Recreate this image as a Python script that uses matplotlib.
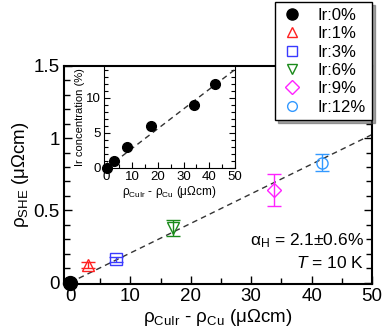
import matplotlib
matplotlib.use("Agg")
import matplotlib.pyplot as plt
import numpy as np
from matplotlib.ticker import MultipleLocator, FuncFormatter
from matplotlib.lines import Line2D

plt.rcParams['font.family'] = ['Liberation Sans', 'DejaVu Sans']
plt.rcParams['mathtext.fontset'] = 'custom'
plt.rcParams['mathtext.rm'] = 'Liberation Sans'
plt.rcParams['mathtext.it'] = 'Liberation Sans:italic'

# main panel data
labels = ['Ir:0%', 'Ir:1%', 'Ir:3%', 'Ir:6%', 'Ir:9%', 'Ir:12%']
rho_diff = [0.0, 3.0, 7.6, 17.0, 33.8, 41.8]
rho_she = [0.0, 0.12, 0.16, 0.375, 0.64, 0.83]
rho_she_err = [0.0, 0.02, 0.02, 0.055, 0.11, 0.06]
markers = ['o', '^', 's', 'v', 'D', 'o']
colors = ['black', '#ff2020', '#3a3aff', '#1a8a1a', '#ff22ff', '#3399ff']
fit_slope = 0.0205

# inset data
inset_rho = [0.0, 2.8, 7.8, 17.2, 34.2, 42.4]
inset_conc = [0.0, 1.0, 3.0, 6.0, 9.0, 12.0]
inset_slope = 0.28

W, H = 382, 329
fig = plt.figure(figsize=(W / 100, H / 100), dpi=100)

ax = fig.add_axes([64 / W, 1 - 284 / H, 308 / W, 218 / H])
xs = np.array([0, 50])
ax.plot(xs, fit_slope * xs, '--', color='#333333', lw=1, dashes=(4, 3))
handles = []
for i in range(len(labels)):
    filled = i == 0
    ms = 10 if filled else (7 if markers[i] == 'D' else 8)
    ax.errorbar(rho_diff[i], rho_she[i], yerr=rho_she_err[i] if i else None,
                fmt=markers[i], color=colors[i],
                mfc=colors[i] if filled else 'none', mec=colors[i],
                ms=ms, mew=1, elinewidth=1, capsize=5,
                clip_on=False, zorder=5)
    handles.append(Line2D([], [], ls='none', marker=markers[i], color=colors[i],
                          mfc=colors[i] if filled else 'none', mec=colors[i],
                          ms=8 if filled else 7, mew=1, label=labels[i]))
ax.set_xlim(-1, 50)
ax.set_ylim(-0.01, 1.5)
ax.xaxis.set_major_locator(MultipleLocator(10))
ax.xaxis.set_minor_locator(MultipleLocator(5))
ax.yaxis.set_major_locator(MultipleLocator(0.5))
ax.yaxis.set_minor_locator(MultipleLocator(0.1))
ax.yaxis.set_major_formatter(FuncFormatter(lambda v, p: '%g' % v))
ax.tick_params(which='both', direction='in', right=True, top=False, labelsize=13.5, pad=3)
ax.tick_params(which='major', length=6, width=1)
ax.tick_params(which='minor', length=4, width=1)
for s in ax.spines.values():
    s.set_linewidth(1.5)
ax.set_xlabel(r'ρ$_\mathregular{CuIr}$ - ρ$_\mathregular{Cu}$ (μΩcm)', fontsize=13.5, labelpad=1)
ax.set_ylabel(r'ρ$_\mathregular{SHE}$ (μΩcm)', fontsize=13.5, labelpad=2)
ax.text(0.975, 0.20, r'α$_\mathregular{H}$ = 2.1±0.6%', transform=ax.transAxes,
        ha='right', va='center', fontsize=12.5)
ax.text(0.975, 0.095, r'$\mathit{T}$ = 10 K', transform=ax.transAxes,
        ha='right', va='center', fontsize=12.5)

# inset
ins = fig.add_axes([104 / W, 1 - 168 / H, 131 / W, 102 / H])
ins.plot(xs, inset_slope * xs, '--', color='#333333', lw=1, dashes=(4, 3))
ins.plot(inset_rho, inset_conc, 'o', color='black', ms=7, clip_on=False, zorder=5)
ins.set_xlim(-1, 50)
ins.set_ylim(0, 14.5)
ins.xaxis.set_major_locator(MultipleLocator(10))
ins.xaxis.set_minor_locator(MultipleLocator(5))
ins.yaxis.set_major_locator(MultipleLocator(5))
ins.yaxis.set_minor_locator(MultipleLocator(1))
ins.tick_params(which='both', direction='in', right=True, labelsize=9.5, pad=2)
ins.tick_params(which='major', length=4, width=0.8)
ins.tick_params(which='minor', length=3, width=0.8)
ins.set_xlabel(r'ρ$_\mathregular{CuIr}$ - ρ$_\mathregular{Cu}$ (μΩcm)', fontsize=8.5, labelpad=1)
ins.set_ylabel('Ir concentration (%)', fontsize=8, labelpad=1)

leg = fig.legend(handles=handles, loc='upper right',
                 bbox_to_anchor=(372 / W, 1 - 2 / H), borderaxespad=0,
                 fontsize=12, frameon=True, fancybox=False, shadow=True,
                 edgecolor='black', framealpha=1, handletextpad=0.9,
                 labelspacing=0.2, borderpad=0.35, handlelength=1.3)
leg.get_frame().set_linewidth(1)

fig.savefig('out.png', dpi=100)
